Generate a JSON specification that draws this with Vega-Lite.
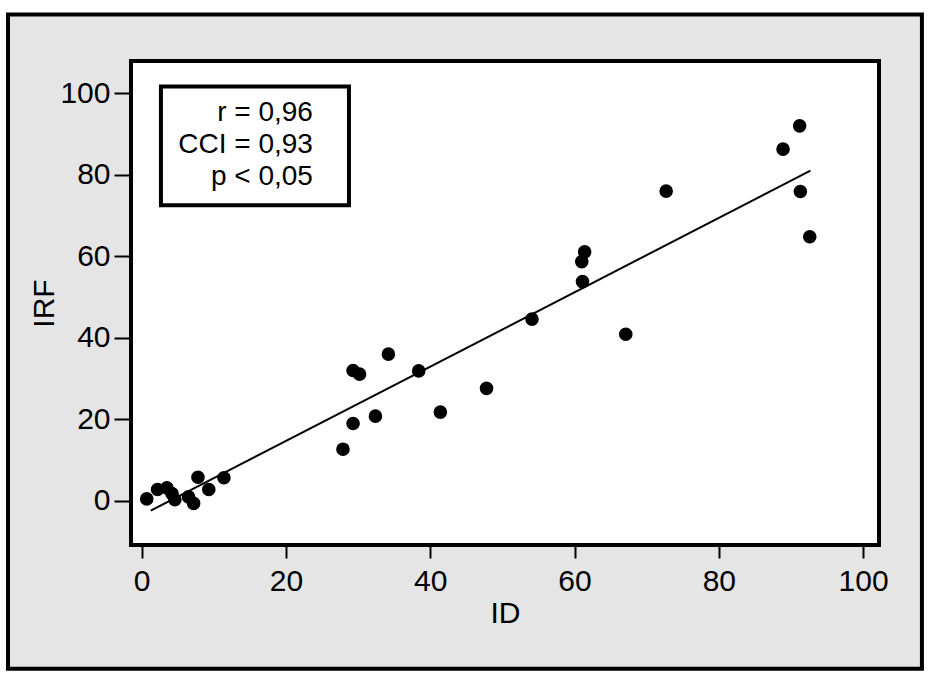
{
  "$schema": "https://vega.github.io/schema/vega-lite/v6.json",
  "width": 748,
  "height": 484,
  "autosize": {"type": "none"},
  "padding": {"left": 131, "top": 61, "right": 54, "bottom": 131},
  "background": "white",
  "config": {
    "view": {"stroke": null, "fill": null},
    "font": "Liberation Sans",
    "axis": {
      "grid": false,
      "domain": false,
      "tickColor": "black",
      "tickWidth": 2,
      "labelColor": "black",
      "titleColor": "black",
      "labelFont": "Liberation Sans",
      "titleFont": "Liberation Sans",
      "labelFontSize": 30,
      "titleFontSize": 30,
      "titleFontWeight": "normal"
    }
  },
  "datasets": {
    "points": [
      {"ID": 0.7, "IRF": 0.5}, {"ID": 2.2, "IRF": 2.8}, {"ID": 3.5, "IRF": 3.2},
      {"ID": 4.2, "IRF": 1.8}, {"ID": 4.6, "IRF": 0.3}, {"ID": 6.5, "IRF": 1.0},
      {"ID": 7.2, "IRF": -0.6}, {"ID": 7.8, "IRF": 5.8}, {"ID": 9.3, "IRF": 2.8},
      {"ID": 11.4, "IRF": 5.7}, {"ID": 27.9, "IRF": 12.7}, {"ID": 29.3, "IRF": 19.0},
      {"ID": 29.3, "IRF": 32.0}, {"ID": 30.2, "IRF": 31.1}, {"ID": 32.4, "IRF": 20.8},
      {"ID": 34.2, "IRF": 36.0}, {"ID": 38.4, "IRF": 31.9}, {"ID": 41.4, "IRF": 21.8},
      {"ID": 47.8, "IRF": 27.6}, {"ID": 54.1, "IRF": 44.6}, {"ID": 61.1, "IRF": 53.8},
      {"ID": 61.0, "IRF": 58.7}, {"ID": 61.4, "IRF": 61.1}, {"ID": 67.1, "IRF": 40.9},
      {"ID": 72.7, "IRF": 76.0}, {"ID": 88.9, "IRF": 86.3}, {"ID": 91.2, "IRF": 92.0},
      {"ID": 91.3, "IRF": 75.9}, {"ID": 92.6, "IRF": 64.8}
    ],
    "fit": [
      {"ID": 1.25, "IRF": -2.38},
      {"ID": 92.7, "IRF": 81.0}
    ]
  },
  "layer": [
    {
      "data": {"values": [{}]},
      "mark": {"type": "rect", "fill": "#e5e5e5", "stroke": "black", "strokeWidth": 4, "clip": false},
      "encoding": {
        "x": {"datum": -18.53, "type": "quantitative"},
        "x2": {"datum": 108.15},
        "y": {"datum": 119.28, "type": "quantitative"},
        "y2": {"datum": -41.13}
      }
    },
    {
      "data": {"values": [{}]},
      "mark": {"type": "rect", "fill": "white", "stroke": "black", "strokeWidth": 4, "clip": false},
      "encoding": {
        "x": {"datum": -1.48, "type": "quantitative"},
        "x2": {"datum": 102.2},
        "y": {"datum": -10.8, "type": "quantitative"},
        "y2": {"datum": 107.9}
      }
    },
    {
      "data": {"name": "fit"},
      "mark": {"type": "line", "color": "black", "strokeWidth": 2},
      "encoding": {
        "x": {"field": "ID", "type": "quantitative"},
        "y": {"field": "IRF", "type": "quantitative"}
      }
    },
    {
      "data": {"name": "points"},
      "mark": {"type": "point", "shape": "circle", "filled": true, "color": "black", "opacity": 1, "size": 185},
      "encoding": {
        "x": {
          "field": "ID", "type": "quantitative", "title": "ID",
          "scale": {"domain": [-1.48, 102.2], "nice": false, "zero": false},
          "axis": {"values": [0, 20, 40, 60, 80, 100], "tickSize": 13, "labelPadding": 8, "titlePadding": 2, "zindex": 2}
        },
        "y": {
          "field": "IRF", "type": "quantitative", "title": "IRF",
          "scale": {"domain": [-10.8, 107.9], "nice": false, "zero": false},
          "axis": {"values": [0, 20, 40, 60, 80, 100], "tickSize": 17, "labelPadding": 4, "titlePadding": 0, "zindex": 2}
        }
      }
    },
    {
      "data": {"values": [{}]},
      "mark": {"type": "rect", "fill": "white", "stroke": "black", "strokeWidth": 4},
      "encoding": {
        "x": {"datum": 2.67, "type": "quantitative"},
        "x2": {"datum": 28.73},
        "y": {"datum": 101.67, "type": "quantitative"},
        "y2": {"datum": 72.5}
      }
    },
    {
      "data": {"values": [{}]},
      "mark": {"type": "text", "align": "right", "baseline": "middle", "fontSize": 28, "lineHeight": 32, "color": "black", "font": "Liberation Sans"},
      "encoding": {
        "x": {"datum": 23.74, "type": "quantitative"},
        "y": {"datum": 95.1, "type": "quantitative"},
        "text": {"value": ["r = 0,96", "CCI = 0,93", "p < 0,05"]}
      }
    }
  ]
}
